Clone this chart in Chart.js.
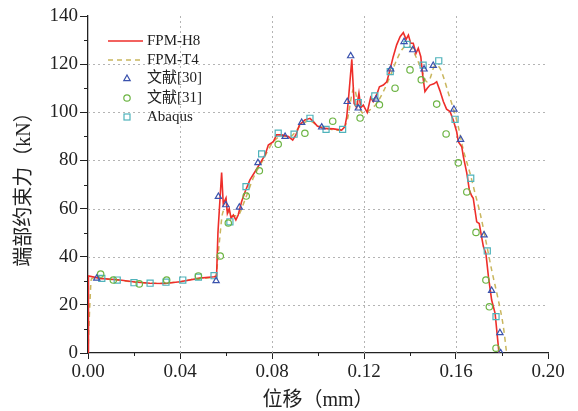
<!DOCTYPE html>
<html><head><meta charset="utf-8">
<script src="https://cdn.jsdelivr.net/npm/chart.js@4.4.0/dist/chart.umd.min.js"></script>
<style>html,body{margin:0;padding:0;background:#fff}#wrap{width:578px;height:411px}</style>
</head><body><div id="wrap"><canvas id="c" width="578" height="411"></canvas></div>
<script>
// ---- data ----
const xMajorTicks = [0, 0.04, 0.08, 0.12, 0.16, 0.20];
const xMinorTicks = [0.02, 0.06, 0.10, 0.14, 0.18];
const yMajorTicks = [0, 20, 40, 60, 80, 100, 120, 140];
const yMinorTicks = [10, 30, 50, 70, 90, 110, 130];
const seriesNames = ['FPM-H8', 'FPM-T4', '文献[30]', '文献[31]', 'Abaqus'];
const xTitle = '位移（mm）';
const yTitle = '端部约束力（kN）';

const fpmH8 = [[0,0],[0.0002,32],[0.0052,31],[0.0139,30.3],[0.0204,29.5],[0.027,29],[0.0335,28.9],[0.04,29.6],[0.0487,31.1],[0.0548,31.7],[0.0559,32],[0.0565,50],[0.0581,75],[0.0588,62],[0.06,64.4],[0.0606,58],[0.0614,60],[0.0622,56],[0.0632,57.3],[0.0643,55.3],[0.0653,57.3],[0.0668,62.9],[0.0683,67],[0.0704,71.9],[0.0726,75.3],[0.0748,78.8],[0.077,82.3],[0.0784,86.4],[0.0806,87.8],[0.082,90.6],[0.0842,90.6],[0.0871,89.9],[0.089,88.5],[0.0904,90.6],[0.0919,94.7],[0.0943,96.8],[0.0965,97.5],[0.098,96.1],[0.0997,94.3],[0.1023,93.3],[0.1067,93.1],[0.1103,92.6],[0.1117,94],[0.1125,98.2],[0.1132,105],[0.1147,122],[0.1157,103.7],[0.1168,102],[0.1178,108],[0.1186,102],[0.1197,103],[0.1214,99.9],[0.1229,106.2],[0.124,104.4],[0.1255,107.2],[0.1267,110.6],[0.1284,111.3],[0.1299,112.7],[0.1313,117.6],[0.1327,123.1],[0.1342,128],[0.1357,131.4],[0.1371,133.1],[0.1383,130.3],[0.1393,132.1],[0.1403,128.7],[0.1414,128.7],[0.1426,124.5],[0.1436,126.6],[0.1447,123.1],[0.1455,115.5],[0.1465,108.6],[0.1475,110],[0.1487,111.3],[0.1504,111.8],[0.1516,112.7],[0.153,109],[0.1545,104.5],[0.1559,101.3],[0.1574,100.3],[0.1588,96.8],[0.1603,91.9],[0.161,87.8],[0.1625,85.7],[0.1632,81.6],[0.1647,74.7],[0.1658,67.7],[0.1668,65.3],[0.1675,64.3],[0.169,54.5],[0.1701,53.8],[0.1719,44.2],[0.173,41.4],[0.1741,31.7],[0.1755,22],[0.177,16.5],[0.1777,9.6],[0.1787,0]];

const fpmT4 = [[0,0],[0.0008,20],[0.0015,31],[0.005,31],[0.012,30.3],[0.02,29.5],[0.03,29],[0.04,29.6],[0.048,31],[0.0555,31.8],[0.057,45],[0.0585,58],[0.06,60],[0.062,57],[0.065,57],[0.068,63],[0.072,73],[0.076,80],[0.08,87],[0.084,90],[0.088,90],[0.092,94],[0.096,96.5],[0.1,94.5],[0.105,93],[0.11,92.5],[0.1125,96],[0.1157,110],[0.1175,103],[0.1197,99.6],[0.1226,101],[0.1255,103.7],[0.1284,108.6],[0.1313,114.8],[0.1342,121.7],[0.1364,125.9],[0.1386,127.5],[0.1407,126.6],[0.1429,122.4],[0.1451,117.6],[0.1473,112.7],[0.1487,114],[0.1504,118.9],[0.1516,119.6],[0.153,118.3],[0.1545,114.8],[0.1567,107.9],[0.1588,101.7],[0.161,94],[0.1632,84.3],[0.1661,74.7],[0.1683,66.3],[0.1705,58],[0.1729,47],[0.1755,34.5],[0.1784,22],[0.1806,10.9],[0.182,0]];

const ref30 = [[0.0038,31],[0.0557,30],[0.0567,65],[0.0599,61.5],[0.0658,60.5],[0.0739,79],[0.0857,89.9],[0.0929,95.7],[0.1016,93.8],[0.1127,104.4],[0.1142,123.4],[0.1175,101.7],[0.1252,105.4],[0.1316,117.9],[0.1374,129.3],[0.1412,125.9],[0.1461,117.9],[0.1501,119.4],[0.1591,101.2],[0.162,88.7],[0.1722,49],[0.1755,25.9],[0.1791,8.4],[0.1794,0]];

const ref31 = [[0.0055,32.8],[0.011,30.3],[0.0223,28.7],[0.0342,30.3],[0.048,32],[0.0575,40.3],[0.061,54],[0.0688,65.2],[0.0745,75.7],[0.0827,86.7],[0.0943,91.3],[0.1064,96.3],[0.1183,97.6],[0.1267,103.1],[0.1335,110],[0.14,117.6],[0.1449,113.5],[0.1516,103.4],[0.1557,91],[0.161,79],[0.1647,66.9],[0.1687,50.1],[0.173,30.3],[0.1745,19.2],[0.1774,2]];

const abaqus = [[0.006,31],[0.0127,30.3],[0.02,29.2],[0.027,29],[0.0339,29.4],[0.0412,30.3],[0.048,31.5],[0.0548,32.1],[0.0617,54.5],[0.0687,69.1],[0.0755,82.7],[0.0827,91.3],[0.0896,90.9],[0.0965,97.5],[0.1035,92.9],[0.1107,92.9],[0.1175,104],[0.1247,106.8],[0.1314,116.9],[0.1387,128.2],[0.1457,119.6],[0.1525,121.4],[0.1596,97.1],[0.1664,72.6],[0.1736,42.4],[0.1774,15.1]];

// ---- styles ----
const C_RED = '#ee2e2a', C_OLIVE = '#c9b65e', C_BLUE = '#3a52ad', C_GREEN = '#6cb443', C_TEAL = '#4fb3bb';
const SERIF = '"Liberation Serif", "Noto Sans CJK SC", serif';
const toXY = a => a.map(p => ({x: p[0], y: p[1]}));

const decor = {
  id: 'decor',
  beforeDatasetsDraw(chart) {
    // dotted grid lines (major ticks only, excluding axes and outer edges)
    const {ctx, scales: {x, y}} = chart;
    ctx.save();
    ctx.strokeStyle = '#b4b4b4'; ctx.lineWidth = 1; ctx.setLineDash([2, 3]);
    x.ticks.forEach((t, i) => {
      if (i === 0 || i === x.ticks.length - 1) return;
      const px = Math.round(x.getPixelForValue(t.value)) + 0.5;
      ctx.beginPath(); ctx.moveTo(px, y.bottom); ctx.lineTo(px, y.top); ctx.stroke();
    });
    y.ticks.forEach((t, i) => {
      if (i === 0 || i === y.ticks.length - 1) return;
      const py = Math.round(y.getPixelForValue(t.value)) + 0.5;
      ctx.beginPath(); ctx.moveTo(x.left, py); ctx.lineTo(x.right, py); ctx.stroke();
    });
    ctx.restore();
  },
  afterDraw(chart) {
    const {ctx, scales: {x, y}} = chart;
    ctx.save();
    ctx.strokeStyle = '#222'; ctx.lineWidth = 1;
    xMinorTicks.forEach(v => {
      const px = Math.round(x.getPixelForValue(v)) + 0.5;
      ctx.beginPath(); ctx.moveTo(px, y.bottom); ctx.lineTo(px, y.bottom + 3); ctx.stroke();
    });
    yMinorTicks.forEach(v => {
      const py = Math.round(y.getPixelForValue(v)) + 0.5;
      ctx.beginPath(); ctx.moveTo(x.left, py); ctx.lineTo(x.left - 4, py); ctx.stroke();
    });
    // legend
    const lx = 108, tx = 147, mx = 127, rows = [41, 60, 78.5, 98, 117];
    ctx.lineWidth = 1.5;
    ctx.strokeStyle = C_RED; ctx.setLineDash([]);
    ctx.beginPath(); ctx.moveTo(lx, rows[0]); ctx.lineTo(lx + 35, rows[0]); ctx.stroke();
    ctx.strokeStyle = C_OLIVE; ctx.setLineDash([5, 4]);
    ctx.beginPath(); ctx.moveTo(lx, rows[1]); ctx.lineTo(lx + 35, rows[1]); ctx.stroke();
    ctx.setLineDash([]); ctx.lineWidth = 1.2;
    ctx.strokeStyle = C_BLUE; ctx.beginPath();
    ctx.moveTo(mx, rows[2] - 3.5); ctx.lineTo(mx + 3.2, rows[2] + 2.2); ctx.lineTo(mx - 3.2, rows[2] + 2.2); ctx.closePath(); ctx.stroke();
    ctx.strokeStyle = C_GREEN; ctx.beginPath(); ctx.arc(mx, rows[3], 3.2, 0, Math.PI * 2); ctx.stroke();
    ctx.strokeStyle = C_TEAL; ctx.strokeRect(mx - 3, rows[4] - 3, 6, 6);
    ctx.fillStyle = '#222'; ctx.font = '15px ' + SERIF; ctx.textBaseline = 'middle'; ctx.textAlign = 'left';
    seriesNames.forEach((n, i) => ctx.fillText(n, tx, rows[i]));
    ctx.restore();
  }
};

new Chart(document.getElementById('c'), {
  type: 'scatter',
  data: {
    datasets: [
      {label: seriesNames[2], data: toXY(ref30), pointStyle: 'triangle', pointRadius: 3.6, borderColor: C_BLUE, backgroundColor: 'rgba(0,0,0,0)', borderWidth: 1.2, order: 0},
      {label: seriesNames[3], data: toXY(ref31), pointStyle: 'circle', pointRadius: 3.2, borderColor: C_GREEN, backgroundColor: 'rgba(0,0,0,0)', borderWidth: 1.2, order: 0},
      {label: seriesNames[4], data: toXY(abaqus), pointStyle: 'rect', pointRadius: 4.3, borderColor: C_TEAL, backgroundColor: 'rgba(0,0,0,0)', borderWidth: 1.2, order: 0},
      {label: seriesNames[0], data: toXY(fpmH8), showLine: true, pointRadius: 0, borderColor: C_RED, borderWidth: 1.6, tension: 0, order: 1},
      {label: seriesNames[1], data: toXY(fpmT4), showLine: true, pointRadius: 0, borderColor: C_OLIVE, borderWidth: 1.5, borderDash: [5, 4], cubicInterpolationMode: 'monotone', order: 2}
    ]
  },
  options: {
    responsive: false, animation: false, devicePixelRatio: 1,
    layout: {padding: {left: 0, right: 30, top: 16, bottom: 0}},
    plugins: {legend: {display: false}, tooltip: {enabled: false}},
    scales: {
      x: {
        type: 'linear', min: 0, max: 0.2,
        afterBuildTicks: s => { s.ticks = xMajorTicks.map(v => ({value: v})); },
        afterFit: s => { s.height = 58; },
        ticks: {color: '#222', font: {family: SERIF, size: 19}, padding: 2, maxRotation: 0, autoSkip: false, callback: v => v.toFixed(2)},
        grid: {drawOnChartArea: false, tickColor: '#222', tickLength: 6},
        border: {color: '#222', width: 1.3},
        title: {display: true, text: xTitle, color: '#222', font: {family: SERIF, size: 20, lineHeight: 1}, padding: {top: 0, bottom: 0}}
      },
      y: {
        type: 'linear', min: 0, max: 140,
        afterBuildTicks: s => { s.ticks = yMajorTicks.map(v => ({value: v})); },
        afterFit: s => { s.width = 88; },
        ticks: {color: '#222', font: {family: SERIF, size: 19}, padding: 2, autoSkip: false},
        grid: {drawOnChartArea: false, tickColor: '#222', tickLength: 8},
        border: {color: '#222', width: 1.3},
        title: {display: true, text: yTitle, color: '#222', font: {family: SERIF, size: 20, lineHeight: 1}, padding: {top: 15, bottom: 0}}
      }
    }
  },
  plugins: [decor]
});
</script></body></html>
